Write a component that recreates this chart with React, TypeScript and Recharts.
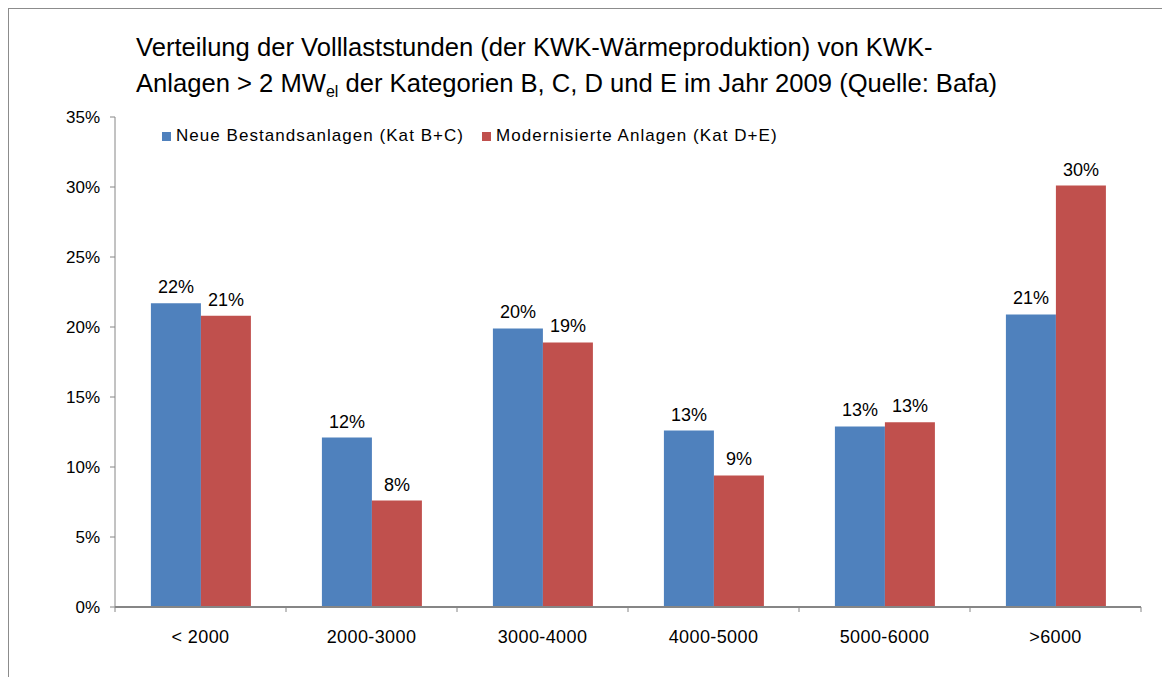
import React from 'react';
import {
  BarChart,
  Bar,
  XAxis,
  YAxis,
  LabelList,
} from 'recharts';

const categories = ['< 2000', '2000-3000', '3000-4000', '4000-5000', '5000-6000', '>6000'];
const neueBestand = [21.7, 12.1, 19.9, 12.6, 12.9, 20.9];
const modernisiert = [20.8, 7.6, 18.9, 9.4, 13.2, 30.1];
const yTicks = [0, 5, 10, 15, 20, 25, 30, 35];

const seriesNames = ['Neue Bestandsanlagen (Kat B+C)', 'Modernisierte Anlagen (Kat D+E)'];
const seriesColors = ['#4F81BD', '#C0504D'];

const data = categories.map((name, i) => ({
  name,
  neu: neueBestand[i],
  mod: modernisiert[i],
}));

const FONT = '"Liberation Sans", Arial, sans-serif';
const AXIS = '#868686';
const W = 1162;
const H = 669;
const M = { top: 109, right: 29, bottom: 30, left: 0 };
const Y_W = 107;
const BAND = (W - M.left - M.right - Y_W) / categories.length;

// ticks sit on the category boundaries, like Excel draws them
function CategoryTick(props: any) {
  const { x, y, payload, index } = props;
  const left = x - BAND / 2;
  const last = index === categories.length - 1;
  return (
    <g>
      <line x1={left} y1={y} x2={left} y2={y + 5} stroke={AXIS} />
      {last && <line x1={x + BAND / 2} y1={y} x2={x + BAND / 2} y2={y + 5} stroke={AXIS} />}
      <text
        x={x}
        y={y + 36}
        textAnchor="middle"
        fontSize={18}
        letterSpacing={0.4}
        fill="#000"
        fontFamily={FONT}
      >
        {payload.value}
      </text>
    </g>
  );
}

const pct = (v: any) => `${Math.round(Number(v))}%`;

export default function App() {
  return (
    <div style={{ position: 'relative', width: W, height: H, fontFamily: FONT }}>
      <div
        style={{
          position: 'absolute',
          left: 0,
          top: 0,
          width: W,
          height: H,
          borderTop: '1px solid #8c8c8c',
          borderLeft: '1px solid #8c8c8c',
          boxSizing: 'border-box',
        }}
      />
      <div
        style={{
          position: 'absolute',
          left: 128,
          top: 21,
          fontSize: 25.6,
          lineHeight: '36px',
          color: '#000',
          whiteSpace: 'nowrap',
        }}
      >
        Verteilung der Volllaststunden (der KWK-Wärmeproduktion) von KWK-
        <br />
        Anlagen &gt; 2 MW<sub style={{ fontSize: 16, verticalAlign: '-5px' }}>el</sub> der Kategorien B, C, D und E
        im Jahr 2009 (Quelle: Bafa)
      </div>
      <div
        style={{
          position: 'absolute',
          left: 154,
          top: 118,
          display: 'flex',
          fontSize: 17,
          letterSpacing: 1.05,
          lineHeight: '20px',
          color: '#000',
        }}
      >
        {seriesNames.map((n, i) => (
          <div key={n} style={{ display: 'flex', alignItems: 'center', marginRight: 18 }}>
            <span
              style={{ width: 9, height: 9, background: seriesColors[i], marginRight: 5, display: 'inline-block' }}
            />
            {n}
          </div>
        ))}
      </div>
      <div style={{ position: 'absolute', left: 0, top: 0 }}>
        <BarChart width={W} height={H} data={data} margin={M} barCategoryGap="21%" barGap={0}>
          <YAxis
            width={Y_W}
            domain={[0, 35]}
            ticks={yTicks}
            interval={0}
            tickFormatter={(v) => `${v}%`}
            stroke={AXIS}
            tickSize={5}
            tickMargin={10}
            tick={{ fontSize: 17, fill: '#000', fontFamily: FONT }}
          />
          <XAxis
            dataKey="name"
            stroke={AXIS}
            strokeWidth={2}
            tickLine={false}
            tickSize={0}
            tickMargin={0}
            height={40}
            interval={0}
            tick={<CategoryTick />}
          />
          <Bar dataKey="neu" name={seriesNames[0]} fill={seriesColors[0]} isAnimationActive={false}>
            <LabelList dataKey="neu" position="top" offset={10} formatter={pct} fontSize={18} fill="#000" fontFamily={FONT} />
          </Bar>
          <Bar dataKey="mod" name={seriesNames[1]} fill={seriesColors[1]} isAnimationActive={false}>
            <LabelList dataKey="mod" position="top" offset={10} formatter={pct} fontSize={18} fill="#000" fontFamily={FONT} />
          </Bar>
        </BarChart>
      </div>
    </div>
  );
}
